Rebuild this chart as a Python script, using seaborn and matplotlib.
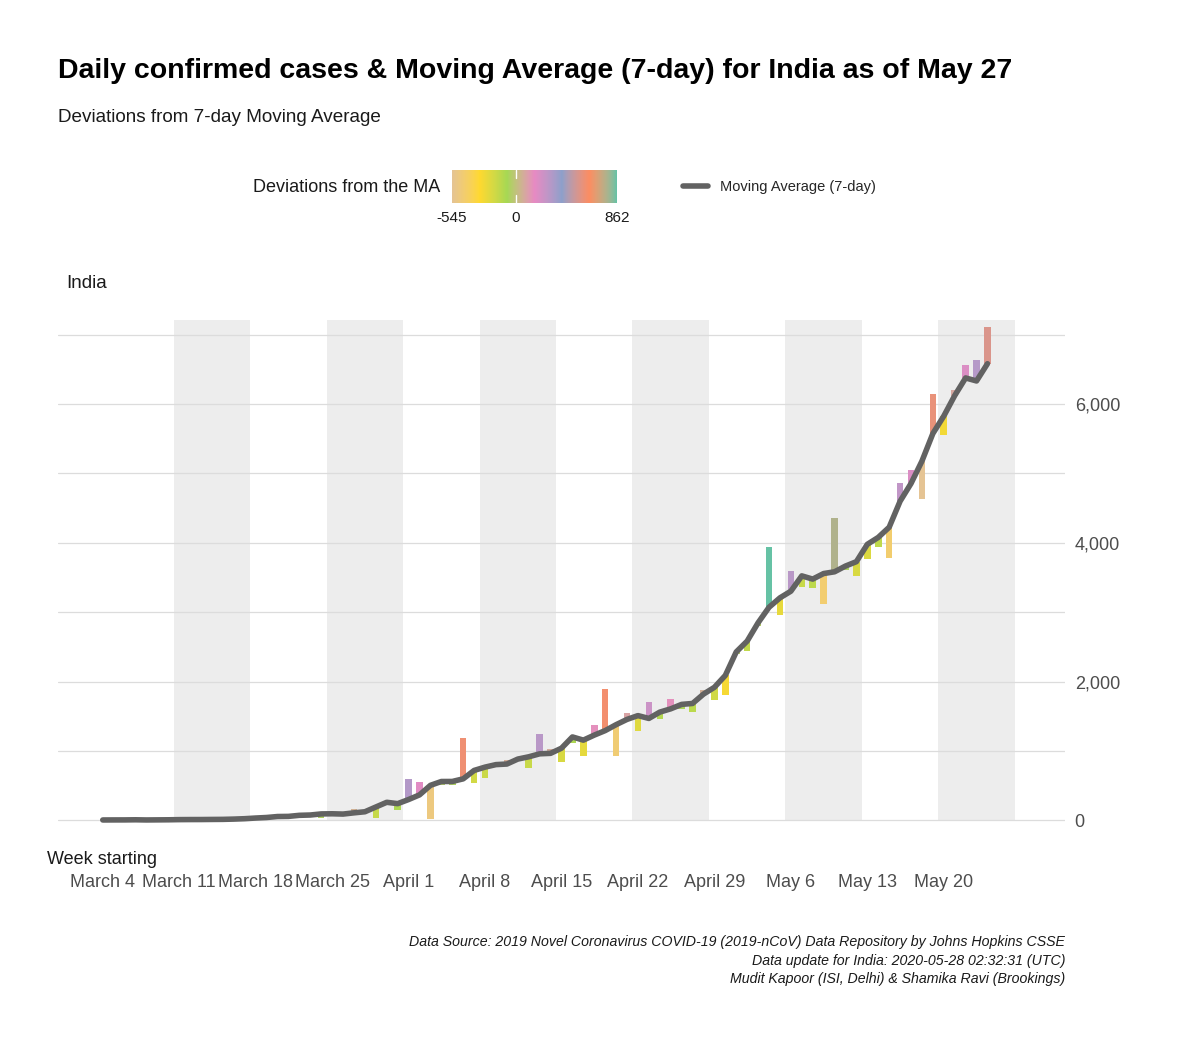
import numpy as np
import pandas as pd
import matplotlib
matplotlib.use("Agg")
import matplotlib.pyplot as plt
import seaborn as sns
from matplotlib.colors import ListedColormap, Normalize
from matplotlib.ticker import FuncFormatter

# daily confirmed cases, India, March 4 -> May 24
start_date = "2020-03-04"
daily_cases = [
    23, 2, 1, 3, 5, 4, 13,
    6, 11, 9, 20, 11, 6, 23,
    14, 38, 50, 86, 66, 103, 37,
    121, 70, 160, 100, 37, 227, 146,
    601, 545, 24, 515, 506, 1190, 533,
    605, 809, 873, 848, 759, 1248, 1034,
    835, 1108, 922, 1370, 1893, 924, 1541,
    1290, 1707, 1453, 1753, 1607, 1561, 1873,
    1738, 1801, 2394, 2442, 2806, 3932, 2963,
    3587, 3364, 3344, 3113, 4353, 3607, 3524,
    3763, 3942, 3787, 4864, 5050, 4630, 6147,
    5553, 6198, 6568, 6629, 7113,
]

# 7-day (centred) moving average, same days
moving_avg = [
    4.6, 5.3, 5.6, 7.3, 4.9, 6.1, 7.3,
    9.7, 10.6, 10.9, 12.3, 13.4, 17.3, 23.1,
    32.6, 40.4, 54.3, 56.3, 71.6, 76.1, 91.9,
    93.9, 89.7, 107.4, 123.0, 191.6, 259.4, 240.0,
    299.3, 366.3, 503.9, 559.1, 559.7, 597.4, 718.7,
    766.3, 802.4, 810.7, 882.3, 915.1, 957.9, 964.9,
    1039.4, 1201.4, 1155.1, 1227.6, 1292.6, 1378.1, 1454.0,
    1508.7, 1467.9, 1558.9, 1606.3, 1670.3, 1683.7, 1818.1,
    1916.6, 2087.9, 2426.6, 2582.3, 2846.4, 3069.7, 3205.4,
    3301.3, 3522.3, 3475.9, 3556.0, 3581.1, 3663.7, 3727.0,
    3977.1, 4076.7, 4222.9, 4597.6, 4853.3, 5175.6, 5572.9,
    5825.0, 6119.7, 6374.6, 6331.1, 6579.7,
]

week_labels = ["March 4", "March 11", "March 18", "March 25", "April 1", "April 8",
               "April 15", "April 22", "April 29", "May 6", "May 13", "May 20"]

df = pd.DataFrame({"date": pd.date_range(start_date, periods=len(daily_cases)),
                   "daily": daily_cases, "ma": moving_avg})
df["day"] = (df["date"] - df["date"].iloc[0]).dt.days
df["dev"] = df["daily"] - df["ma"]

# --- colour scale: Set2 (reversed, no grey) interpolated in CIELAB like ggplot ---
M = np.array([[0.4124, 0.3576, 0.1805], [0.2126, 0.7152, 0.0722], [0.0193, 0.1192, 0.9505]])
WHITE = np.array([0.95047, 1.0, 1.08883])


def to_lab(rgb):
    c = np.asarray(rgb, float)
    c = np.where(c > 0.04045, ((c + 0.055) / 1.055) ** 2.4, c / 12.92)
    xyz = c @ M.T / WHITE
    f = np.where(xyz > 0.008856, np.cbrt(xyz), 7.787 * xyz + 16 / 116)
    return np.stack([116 * f[:, 1] - 16, 500 * (f[:, 0] - f[:, 1]), 200 * (f[:, 1] - f[:, 2])], -1)


def from_lab(lab):
    fy = (lab[:, 0] + 16) / 116
    f = np.stack([fy + lab[:, 1] / 500, fy, fy - lab[:, 2] / 200], -1)
    xyz = np.where(f > 0.2069, f ** 3, (f - 16 / 116) / 7.787) * WHITE
    c = xyz @ np.linalg.inv(M).T
    c = np.where(c > 0.0031308, 1.055 * np.clip(c, 0, None) ** (1 / 2.4) - 0.055, 12.92 * c)
    return np.clip(c, 0, 1)


stops = to_lab(sns.color_palette("Set2", 7)[::-1])
pos = np.linspace(0, 1, len(stops))
t = np.linspace(0, 1, 256)
lab = np.stack([np.interp(t, pos, stops[:, k]) for k in range(3)], -1)
cmap = ListedColormap(from_lab(lab))

lo, hi = df["dev"].min(), df["dev"].max()
norm = Normalize(lo, hi)

# --- figure ---
sns.set_theme(style="white")
plt.rcParams['font.family'] = ['Liberation Sans', 'DejaVu Sans']

W, H = 1200, 1047
fig = plt.figure(figsize=(W / 100, H / 100), dpi=100)
ax = fig.add_axes([58 / W, 1 - 845 / H, (1065 - 58) / W, (845 - 302) / H])

# alternate week shading
band_top = max(daily_cases) * 1.013
week_starts = list(range(0, 84, 7))
for i, d in enumerate(week_starts):
    if i % 2 == 1:
        ax.bar(d + 3, band_top, width=7, bottom=0, color="#EDEDED", zorder=0, linewidth=0)

for yv in range(0, 8000, 1000):
    ax.axhline(yv, color="#DCDCDC", linewidth=0.9, zorder=0.5)

ax.bar(df["day"], df["dev"], bottom=df["ma"], width=0.6,
       color=cmap(norm(df["dev"].values)), linewidth=0, zorder=2)

sns.lineplot(data=df, x="day", y="ma", color="#626262", linewidth=4,
             ax=ax, zorder=3, label="Moving Average (7-day)", legend=False)

ax.set_xlim(-4.1, 88.1)
ax.set_ylim(-356, 7469)
ax.set_xticks(week_starts)
ax.set_xticklabels(week_labels)
ax.set_yticks([0, 2000, 4000, 6000])
ax.yaxis.set_major_formatter(FuncFormatter(lambda v, p: f"{int(v):,}"))
ax.yaxis.tick_right()
ax.tick_params(axis="x", length=0, pad=21, labelsize=13, labelcolor="#4D4D4D")
ax.tick_params(axis="y", length=0, pad=7, labelsize=13, labelcolor="#4D4D4D")
ax.set_xlabel("")
ax.set_ylabel("")
for s in ax.spines.values():
    s.set_visible(False)

# legend for the line
ax.legend(loc="center left", bbox_to_anchor=(670 / W, 1 - 187 / H), bbox_transform=fig.transFigure,
          frameon=False, fontsize=10.5, handlelength=1.7, handletextpad=0.8)

# colour bar legend
cb_ax = fig.add_axes([452 / W, 1 - 203 / H, 165 / W, 33 / H])
cb_ax.imshow(np.linspace(lo, hi, 256)[None, :], aspect="auto", cmap=cmap, norm=norm,
             extent=[lo, hi, 0, 1])
for y0, y1 in [(0, 0.25), (0.75, 1)]:
    cb_ax.plot([0, 0], [y0, y1], color="white", linewidth=1)
cb_ax.set_xlim(lo, hi)
cb_ax.set_ylim(0, 1)
cb_ax.set_yticks([])
cb_ax.set_xticks([lo, 0, hi])
cb_ax.set_xticklabels([f"{int(lo)}", "0", f"{int(hi)}"])
cb_ax.tick_params(axis="x", length=0, pad=6, labelsize=11, labelcolor="#1A1A1A")
for s in cb_ax.spines.values():
    s.set_visible(False)
fig.text(440 / W, 1 - 188 / H, "Deviations from the MA", ha="right", va="center", fontsize=13, color="#1A1A1A")

# titles and notes
fig.text(58 / W, 1 - 71 / H, "Daily confirmed cases & Moving Average (7-day) for India as of May 27",
         fontsize=20.5, fontweight="bold", ha="left", va="center", color="black")
fig.text(58 / W, 1 - 118 / H, "Deviations from 7-day Moving Average", fontsize=13.6,
         ha="left", va="center", color="#1A1A1A")
fig.text(66 / W, 1 - 284 / H, "India", fontsize=13.6, ha="left", va="center", color="#1A1A1A")
fig.text(47 / W, 1 - 859 / H, "Week starting", fontsize=13, ha="left", va="center", color="#1A1A1A")

caption = ["Data Source: 2019 Novel Coronavirus COVID-19 (2019-nCoV) Data Repository by Johns Hopkins CSSE",
           "Data update for India: 2020-05-28 02:32:31 (UTC)",
           "Mudit Kapoor (ISI, Delhi) & Shamika Ravi (Brookings)"]
for i, line in enumerate(caption):
    fig.text(1065 / W, 1 - (942 + 18.5 * i) / H, line, fontsize=10.2, style="italic",
             ha="right", va="center", color="#1A1A1A")

fig.savefig("out.png", dpi=100, facecolor="white")
